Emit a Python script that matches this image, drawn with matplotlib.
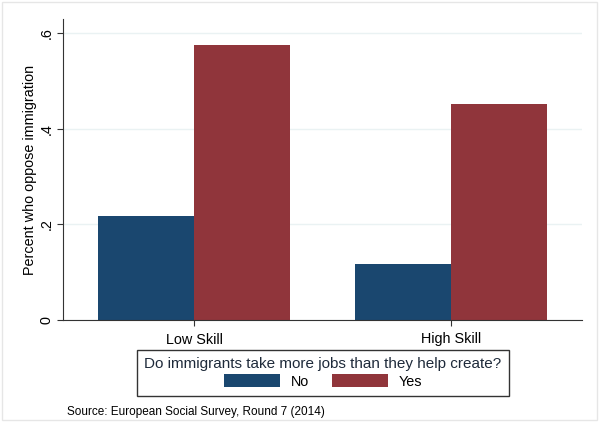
import matplotlib.pyplot as plt
import numpy as np
from matplotlib.patches import Rectangle

plt.rcParams['font.family'] = ['Liberation Sans', 'DejaVu Sans']

groups = ['Low Skill', 'High Skill']
series = ['No', 'Yes']
no_vals = [0.218, 0.117]
yes_vals = [0.576, 0.453]
yticks = [0, 0.2, 0.4, 0.6]
ytick_labels = ['0', '.2', '.4', '.6']

navy = '#1a476f'
maroon = '#90353b'

fig = plt.figure(figsize=(6.01, 4.22), dpi=100)
ax = fig.add_axes([63/601, 1 - 320/422, 519/601, 301/422])

x = np.arange(len(groups))
w = 0.3735
b1 = ax.bar(x - w/2, no_vals, w, color=navy, label='No')
b2 = ax.bar(x + w/2, yes_vals, w, color=maroon, label='Yes')

ax.set_xlim(-0.51, 1.51)
ax.set_ylim(0, 0.63)
ax.set_yticks(yticks)
ax.set_yticklabels(ytick_labels, rotation=90, va='center', fontsize=10.4)
ax.set_xticks(x)
ax.set_xticklabels(groups, fontsize=10.4)
ax.tick_params(axis='x', length=4, color='#333333', pad=5)
ax.tick_params(axis='y', length=4, color='#333333', pad=2.5)
ax.set_ylabel('Percent who oppose immigration', fontsize=10.4, labelpad=2)
ax.yaxis.grid(True, color='#eaf2f3', linewidth=1)
ax.set_axisbelow(True)
for s in ['top', 'right']:
    ax.spines[s].set_visible(False)
for s in ['left', 'bottom']:
    ax.spines[s].set_color('#333333')
    ax.spines[s].set_linewidth(0.8)

leg = fig.legend(handles=[b1, b2], labels=series, ncol=2, loc='center',
                 bbox_to_anchor=(323/601, 1 - 373/422),
                 title='Do immigrants take more jobs than they help create?',
                 fontsize=10.4, title_fontsize=11, handlelength=3.9,
                 handleheight=1.0, columnspacing=1.6, handletextpad=0.7,
                 borderpad=0.5, labelspacing=0.2, fancybox=False,
                 framealpha=1, edgecolor='#333333')
leg.get_frame().set_linewidth(1.0)
leg.get_title().set_color('#1e2a3a')

fig.text(67/601, 1 - 412/422, 'Source: European Social Survey, Round 7 (2014)',
         fontsize=8.5, va='center', ha='left')

fig.patches.append(Rectangle((0.003, 0.005), 0.99, 0.99, transform=fig.transFigure,
                             fill=False, edgecolor='#e6e6e6', linewidth=1))

fig.savefig('out.png', dpi=100)
